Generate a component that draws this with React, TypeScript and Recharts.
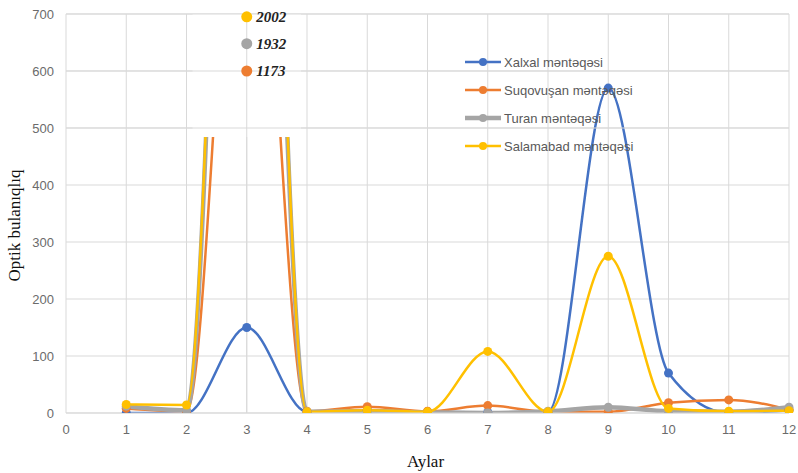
import React from 'react'
import {
  LineChart, Line, XAxis, YAxis, CartesianGrid, Legend, ReferenceArea, ReferenceLine, ReferenceDot,
} from 'recharts'

// months and the readings for each station
const months = [1, 2, 3, 4, 5, 6, 7, 8, 9, 10, 11, 12]
const xalxal = [0, 0, 150, 2, 5, 2, 1, 2, 570, 70, 0, 5]
const suqovusan = [8, 3, 1173, 3, 11, 3, 13, 2, 2, 18, 23, 6]
const turan = [12, 5, 1932, 2, 3, 1, 0, 3, 10, 3, 2, 10]
const salamabad = [15, 14, 2002, 2, 5, 2, 108, 2, 275, 8, 3, 4]

const xTicks = [0, 1, 2, 3, 4, 5, 6, 7, 8, 9, 10, 11, 12]
const yTicks = [0, 100, 200, 300, 400, 500, 600, 700]

const series = [
  { key: 'xalxal', name: 'Xalxal məntəqəsi', color: '#4472c4', width: 2.5 },
  { key: 'suqovusan', name: 'Suqovuşan məntəqəsi', color: '#ed7d31', width: 2.5 },
  { key: 'turan', name: 'Turan məntəqəsi', color: '#a5a5a5', width: 4.5 },
  { key: 'salamabad', name: 'Salamabad məntəqəsi', color: '#ffc000', width: 2.5 },
]

// month 3 values are off scale, shown as markers at the top
const peakNotes = [
  { y: 695, value: salamabad[2], color: '#ffc000' },
  { y: 648, value: turan[2], color: '#a5a5a5' },
  { y: 600, value: suqovusan[2], color: '#ed7d31' },
]

const data = months.map((m, i) => ({
  month: m,
  xalxal: xalxal[i],
  suqovusan: suqovusan[i],
  turan: turan[i],
  salamabad: salamabad[i],
}))

const grid = '#d9d9d9'
const tickStyle = { fill: '#6b6b6b', fontSize: 13, fontFamily: 'Liberation Sans, Arial, sans-serif' }

const LegendBox = () => (
  <div style={{ fontFamily: 'Liberation Sans, Arial, sans-serif', fontSize: 13, color: '#595959' }}>
    {series.map((s) => (
      <div key={s.key} style={{ display: 'flex', alignItems: 'center', height: 28 }}>
        <svg width={38} height={12} style={{ marginRight: 2 }}>
          <line x1={1} y1={6} x2={37} y2={6} stroke={s.color} strokeWidth={s.width} />
          <circle cx={19} cy={6} r={4} fill={s.color} />
        </svg>
        <span>{s.name}</span>
      </div>
    ))}
  </div>
)

export default function App() {
  return (
    <div style={{ position: 'absolute', left: 0, top: 0, background: '#fff' }}>
      <LineChart
        width={798}
        height={473}
        data={data}
        margin={{ top: 14, right: 9, bottom: 20, left: 16 }}
      >
        <CartesianGrid stroke={grid} strokeWidth={1} />
        <XAxis
          dataKey="month"
          type="number"
          domain={[0, 12]}
          ticks={xTicks}
          height={40}
          axisLine={{ stroke: grid }}
          tickLine={false}
          tickSize={0}
          tickMargin={12}
          tick={tickStyle}
          label={{
            content: ({ viewBox }: any) => (
              <text
                x={viewBox.x + viewBox.width / 2 - 2}
                y={viewBox.y + viewBox.height + 14}
                textAnchor="middle"
                fontFamily="Liberation Serif, Times New Roman, serif"
                fontSize={17}
                fill="#111"
              >
                Aylar
              </text>
            ),
          }}
        />
        <YAxis
          type="number"
          domain={[0, 700]}
          ticks={yTicks}
          allowDataOverflow
          width={50}
          axisLine={false}
          tickLine={false}
          tickSize={0}
          tickMargin={12}
          tick={tickStyle}
          label={{
            content: ({ viewBox }: any) => {
              const cx = viewBox.x + 4
              const cy = viewBox.y + viewBox.height / 2 + 12
              return (
                <text
                  x={cx}
                  y={cy}
                  transform={`rotate(-90, ${cx}, ${cy})`}
                  textAnchor="middle"
                  fontFamily="Liberation Serif, Times New Roman, serif"
                  fontSize={17}
                  fill="#111"
                >
                  Optik bulanıqlıq
                </text>
              )
            },
          }}
        />
        <Legend
          layout="vertical"
          verticalAlign="middle"
          align="center"
          wrapperStyle={{ left: 464, top: 48, width: 220 }}
          content={<LegendBox />}
        />
        {series.map((s) => (
          <Line
            key={s.key}
            dataKey={s.key}
            name={s.name}
            type="monotone"
            stroke={s.color}
            strokeWidth={s.width}
            dot={{ r: 4.5, fill: s.color, stroke: s.color, strokeWidth: 0 }}
            activeDot={false}
            isAnimationActive={false}
          />
        ))}
        {/* break in the off-scale spike at month 3 */}
        <ReferenceArea x1={2.1} x2={3.9} y1={484} y2={700} fill="#fff" fillOpacity={1} stroke="none" zIndex={450} />
        <ReferenceLine y={500} stroke={grid} zIndex={460} />
        <ReferenceLine y={600} stroke={grid} zIndex={460} />
        <ReferenceLine y={700} stroke={grid} zIndex={460} />
        <ReferenceLine x={3} stroke={grid} zIndex={460} />
        {peakNotes.map((p) => (
          <ReferenceDot
            key={p.value}
            x={3}
            y={p.y}
            r={5.5}
            fill={p.color}
            stroke="none"
            zIndex={470}
            label={{
              value: p.value,
              position: 'right',
              offset: 4,
              fill: '#222',
              fontSize: 15,
              fontWeight: 'bold',
              fontStyle: 'italic',
              fontFamily: 'Liberation Serif, Times New Roman, serif',
            }}
          />
        ))}
      </LineChart>
    </div>
  )
}
